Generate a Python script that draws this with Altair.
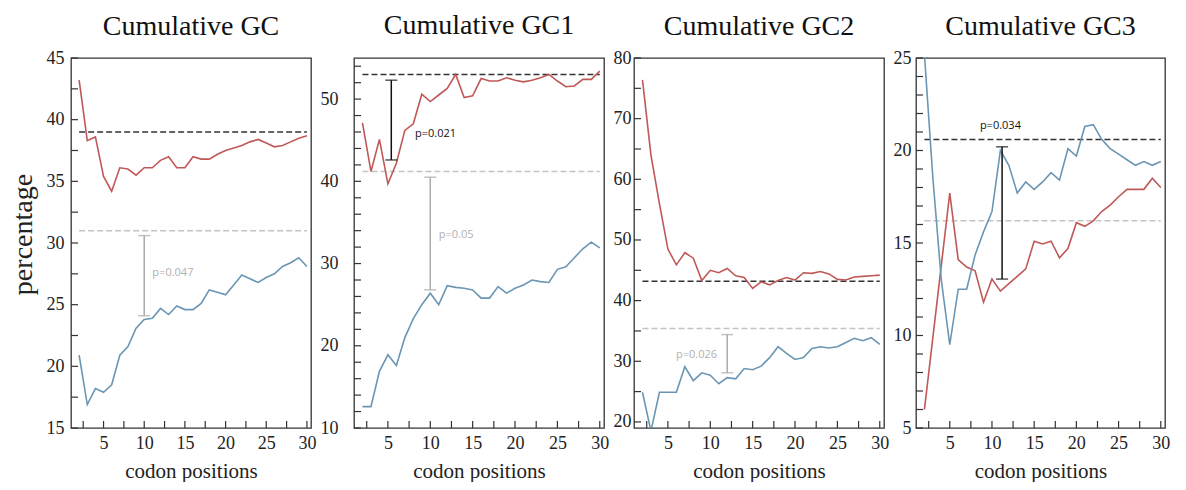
import altair as alt
import pandas as pd

positions = list(range(2, 31))

# Cumulative GC
gc_red = [43.2, 38.3, 38.6, 35.4, 34.2, 36.1, 36.0, 35.5, 36.1, 36.1, 36.7, 37.0, 36.1, 36.1,
          37.0, 36.8, 36.8, 37.2, 37.5, 37.7, 37.9, 38.2, 38.4, 38.1, 37.8, 37.9, 38.2, 38.5, 38.7]
gc_blue = [20.9, 16.9, 18.2, 17.9, 18.5, 20.9, 21.6, 23.1, 23.8, 23.9, 24.7, 24.2, 24.9, 24.6,
           24.6, 25.1, 26.2, 26.0, 25.8, 26.6, 27.4, 27.1, 26.8, 27.2, 27.5, 28.1, 28.4, 28.8, 28.1]
# Cumulative GC1
gc1_red = [47.1, 41.2, 45.1, 39.7, 42.2, 46.2, 47.0, 50.6, 49.7, 50.5, 51.3, 53.0, 50.2, 50.4,
           52.5, 52.2, 52.2, 52.6, 52.3, 52.1, 52.3, 52.6, 53.0, 52.2, 51.5, 51.6, 52.4, 52.4, 53.4]
gc1_blue = [12.6, 12.6, 16.9, 18.9, 17.6, 21.0, 23.3, 25.0, 26.4, 25.0, 27.3, 27.1, 27.0, 26.8,
            25.8, 25.8, 27.2, 26.4, 27.0, 27.4, 28.0, 27.8, 27.7, 29.3, 29.6, 30.7, 31.8, 32.6, 31.9]
# Cumulative GC2
gc2_red = [76.4, 64.0, 56.0, 48.5, 45.9, 47.9, 47.0, 43.3, 45.0, 44.6, 45.3, 44.1, 43.8, 42.0,
           43.1, 42.6, 43.3, 43.8, 43.4, 44.6, 44.5, 44.8, 44.4, 43.5, 43.4, 43.9, 44.0, 44.1, 44.2]
gc2_blue = [24.9, 18.5, 24.9, 24.9, 24.9, 29.1, 26.8, 28.1, 27.7, 26.3, 27.3, 27.1, 28.8, 28.6,
            29.2, 30.6, 32.4, 31.3, 30.3, 30.6, 32.1, 32.4, 32.2, 32.4, 33.1, 33.8, 33.4, 33.9, 32.8]
# Cumulative GC3
gc3_red = [6.0, 9.9, 13.8, 17.7, 14.1, 13.7, 13.5, 11.8, 13.05, 12.4, 12.8, 13.2, 13.6, 15.1,
           14.95, 15.1, 14.2, 14.7, 16.1, 15.9, 16.2, 16.7, 17.05, 17.5, 17.9, 17.9, 17.9, 18.5, 18.0]
gc3_blue = [25.2, 18.5, 13.0, 9.5, 12.5, 12.5, 14.35, 15.6, 16.7, 20.0, 19.2, 17.7, 18.3, 17.9,
            18.3, 18.8, 18.4, 20.1, 19.7, 21.3, 21.4, 20.6, 20.1, 19.8, 19.5, 19.2, 19.4, 19.2, 19.4]

titles = ["Cumulative GC", "Cumulative GC1", "Cumulative GC2", "Cumulative GC3"]
black_refs = [39.0, 53.0, 43.2, 20.6]
gray_refs = [31.0, 41.2, 35.4, 16.2]
y_domains = [[15, 45], [10, 55], [19, 80], [5, 25]]
y_labels = [[15, 20, 25, 30, 35, 40, 45], [10, 20, 30, 40, 50],
            [20, 30, 40, 50, 60, 70, 80], [5, 10, 15, 20, 25]]
y_minor = [[15 + 2.5 * i for i in range(13)], [10 + 2 * i for i in range(23)],
           [20 + 5 * i for i in range(13)], [5 + i for i in range(21)]]
x_labels = [5, 10, 15, 20, 25, 30]
x_minor = [2.5 * i for i in range(1, 13)]

# error bars: panel, x, y_low, y_high, kind
bar_panel = [0, 1, 1, 2, 3]
bar_x = [10, 5.4, 10, 12, 11.2]
bar_lo = [24.1, 42.6, 26.8, 28.1, 13.05]
bar_hi = [30.6, 52.3, 40.5, 34.4, 20.2]
bar_kind = ["gray", "black", "gray", "gray", "black"]

# p-value labels
txt_panel = [0, 1, 1, 2, 3]
txt_x = [11, 8.2, 11, 10.8, 11]
txt_y = [27.6, 45.8, 33.5, 31.1, 21.3]
txt_label = ["p=0.047", "p=0.021", "p=0.05", "p=0.026", "p=0.034"]
txt_kind = ["gray", "black", "gray", "gray", "black"]
txt_align = ["left", "left", "left", "right", "center"]

reds = [gc_red, gc1_red, gc2_red, gc3_red]
blues = [gc_blue, gc1_blue, gc2_blue, gc3_blue]
widths = [240, 250, 250, 249]
label_pads = [7, 16, 3, 5]
title_offsets = [8, 18, 8, 8]

RED = "#c05858"
BLUE = "#6a96b4"
INK = "#222222"
BAR_COL = {"black": "#111111", "gray": "#aaaaaa"}
TXT_COL = {"black": "#111111", "gray": "#b0b0b0"}
H = 370
SERIF = "Liberation Serif"


def panel(i):
    xs = alt.Scale(domain=[1, 30.5], nice=False, zero=False)
    ys = alt.Scale(domain=y_domains[i], nice=False, zero=False)
    xax = alt.Axis(values=x_labels, title="codon positions", ticks=False, domain=False,
                   grid=False, labelFont=SERIF, labelFontSize=18, labelColor=INK,
                   labelPadding=6, titleFont=SERIF, titleFontSize=21,
                   titleFontWeight="normal", titleColor=INK, titlePadding=8,
                   labelFlush=False)
    if i == 0:
        yax = alt.Axis(values=y_labels[i], title="percentage", ticks=False, domain=False,
                       grid=False, labelFont=SERIF, labelFontSize=18, labelColor=INK,
                       labelPadding=label_pads[i], titleFont=SERIF, titleFontSize=28,
                       titleFontWeight="normal", titleColor=INK, titlePadding=9,
                       titleY=176, labelFlush=False)
    else:
        yax = alt.Axis(values=y_labels[i], title=None, ticks=False, domain=False,
                       grid=False, labelFont=SERIF, labelFontSize=18, labelColor=INK,
                       labelPadding=label_pads[i], labelFlush=False)

    def X(f):
        return alt.X(f, scale=xs, axis=xax, title="codon positions")

    def Y(f):
        return alt.Y(f, scale=ys, axis=yax, title="percentage" if i == 0 else None)

    layers = []
    for val, col in [(black_refs[i], "#333333"), (gray_refs[i], "#c4c4c4")]:
        rdf = pd.DataFrame({"x": [2], "x2": [30], "y": [val]})
        layers.append(alt.Chart(rdf).mark_rule(strokeWidth=1.5, strokeDash=[6, 3], color=col).encode(
            x=X("x:Q"), x2="x2:Q", y=Y("y:Q")))
    for vals, col in [(reds[i], RED), (blues[i], BLUE)]:
        ldf = pd.DataFrame({"pos": positions, "val": vals})
        layers.append(alt.Chart(ldf).mark_line(strokeWidth=1.6, clip=True, color=col).encode(
            x=X("pos:Q"), y=Y("val:Q")))
    for k, p in enumerate(bar_panel):
        if p != i:
            continue
        col = BAR_COL[bar_kind[k]]
        bdf = pd.DataFrame({"x": [bar_x[k]], "lo": [bar_lo[k]], "hi": [bar_hi[k]]})
        layers.append(alt.Chart(bdf).mark_rule(strokeWidth=1.5, color=col).encode(
            x=X("x:Q"), y=Y("lo:Q"), y2="hi:Q"))
        layers.append(alt.Chart(bdf).mark_tick(orient="horizontal", size=12, thickness=1.5,
                                               color=col).encode(x=X("x:Q"), y=Y("lo:Q")))
        layers.append(alt.Chart(bdf).mark_tick(orient="horizontal", size=12, thickness=1.5,
                                               color=col).encode(x=X("x:Q"), y=Y("hi:Q")))
    for k, p in enumerate(txt_panel):
        if p != i:
            continue
        tdf = pd.DataFrame({"x": [txt_x[k]], "y": [txt_y[k]], "label": [txt_label[k]]})
        layers.append(alt.Chart(tdf).mark_text(
            font="Open Sans", fontSize=11, align=txt_align[k], baseline="middle",
            color=TXT_COL[txt_kind[k]]).encode(x=X("x:Q"), y=Y("y:Q"), text="label:N"))
    layers.append(alt.Chart(pd.DataFrame({"t": y_minor[i]})).mark_rule(
        color="#333333", strokeWidth=1.2).encode(y=Y("t:Q"), x=alt.value(0), x2=alt.value(7)))
    layers.append(alt.Chart(pd.DataFrame({"t": x_minor})).mark_rule(
        color="#333333", strokeWidth=1.2).encode(x=X("t:Q"), y=alt.value(H), y2=alt.value(H - 7)))

    return alt.layer(*layers).properties(
        width=widths[i], height=H,
        title=alt.TitleParams(titles[i], font=SERIF, fontSize=28, fontWeight="normal",
                              color="#111111", offset=title_offsets[i]),
    )


chart = alt.hconcat(*[panel(i) for i in range(4)], spacing=2).properties(
    padding={"top": 3, "left": 0, "right": 0, "bottom": 0}
).configure(
    background="white",
    view=alt.ViewConfig(stroke="#333333", strokeWidth=1.3),
)

chart.save("out.html", embed_options={"renderer": "svg", "actions": False})
